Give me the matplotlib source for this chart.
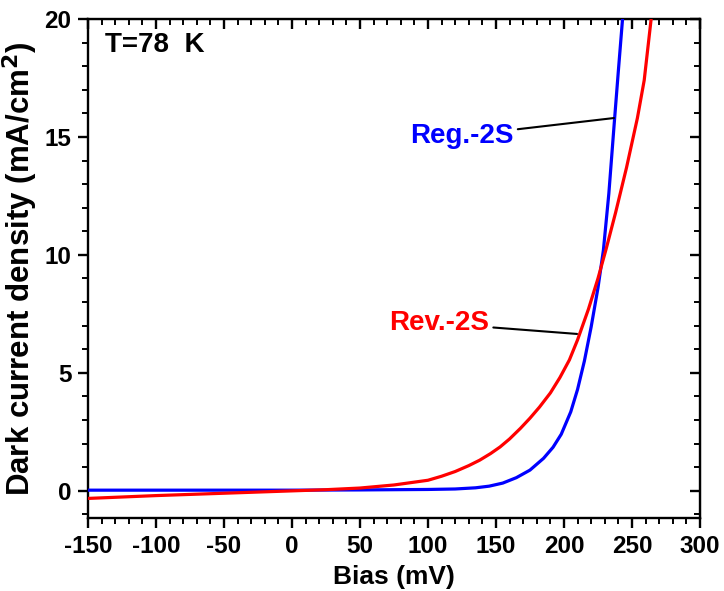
import matplotlib
matplotlib.use("Agg")
import matplotlib.pyplot as plt
from matplotlib.ticker import MultipleLocator

plt.rcParams['font.family'] = ['Liberation Sans', 'DejaVu Sans']
plt.rcParams['font.weight'] = 'bold'
plt.rcParams['axes.unicode_minus'] = False

# Reg.-2S (blue)
reg_bias = [-150, -100, -50, 0, 50, 100, 120, 135, 145, 155, 165, 175, 185,
            192, 198, 205, 210, 215, 220, 225, 229, 233, 237, 240, 243.5]
reg_j = [0.03, 0.03, 0.03, 0.03, 0.04, 0.06, 0.08, 0.13, 0.2, 0.33, 0.56,
         0.88, 1.38, 1.85, 2.4, 3.35, 4.3, 5.5, 6.95, 8.6, 10.2, 12.6, 15.6,
         17.8, 20.3]

# Rev.-2S (red)
rev_bias = [-150, -100, -50, 0, 25, 50, 75, 100, 110, 120, 130, 138, 146,
            153, 160, 168, 175, 182, 190, 197, 204, 210, 218, 225, 231, 238,
            246, 254, 259, 264.5]
rev_j = [-0.32, -0.2, -0.1, 0.0, 0.05, 0.12, 0.25, 0.45, 0.62, 0.82, 1.07,
         1.3, 1.58, 1.86, 2.2, 2.65, 3.08, 3.55, 4.15, 4.8, 5.55, 6.4, 7.7,
         9.0, 10.25, 11.8, 13.7, 15.8, 17.4, 20.2]

x_ticks = [-150, -100, -50, 0, 50, 100, 150, 200, 250, 300]
y_ticks = [0, 5, 10, 15, 20]

fig = plt.figure(figsize=(7.24, 5.91), dpi=100)
ax = fig.add_axes([0.1215, 0.1235, 0.8453, 0.8445])

ax.plot(reg_bias, reg_j, color='#0000ff', lw=2.3, zorder=3)
ax.plot(rev_bias, rev_j, color='#ff0000', lw=2.3, zorder=3)

ax.set_xlim(-150, 300)
ax.set_ylim(-1.15, 20)
ax.set_xticks(x_ticks)
ax.set_yticks(y_ticks)
ax.xaxis.set_minor_locator(MultipleLocator(10))
ax.yaxis.set_minor_locator(MultipleLocator(1))

for s in ax.spines.values():
    s.set_linewidth(1.7)

ax.tick_params(which='major', direction='out', length=7, width=1.7,
               labelsize=17.5, pad=5)
ax.tick_params(which='minor', direction='out', length=4, width=1.4)

# inward ticks on top and right
top = ax.secondary_xaxis('top')
top.set_xticks(x_ticks)
top.xaxis.set_minor_locator(MultipleLocator(10))
top.tick_params(which='major', direction='in', length=7, width=1.7, labeltop=False)
top.tick_params(which='minor', direction='in', length=4, width=1.4)
right = ax.secondary_yaxis('right')
right.set_yticks(y_ticks)
right.yaxis.set_minor_locator(MultipleLocator(1))
right.tick_params(which='major', direction='in', length=7, width=1.7, labelright=False)
right.tick_params(which='minor', direction='in', length=4, width=1.4)

ax.set_xlabel('Bias (mV)', fontsize=19, fontweight='bold', labelpad=5)
ax.set_ylabel('Dark current density (mA/cm$^\\mathbf{2}$)', fontsize=22.5,
              fontweight='bold', labelpad=3)

ax.text(-137.5, 18.9, 'T=78  K', fontsize=20, fontweight='bold', va='center')

ax.annotate('Reg.-2S', xy=(236.8, 15.8), xytext=(163, 15.05),
            color='#0000ff', fontsize=20, fontweight='bold', va='center',
            ha='right', arrowprops=dict(arrowstyle='-', color='black', lw=1.5,
                                        shrinkA=1, shrinkB=0))
ax.annotate('Rev.-2S', xy=(209.6, 6.65), xytext=(145, 7.1),
            color='#ff0000', fontsize=20, fontweight='bold', va='center',
            ha='right', arrowprops=dict(arrowstyle='-', color='black', lw=1.5,
                                        shrinkA=1, shrinkB=0))

fig.savefig('out.png', dpi=100)
